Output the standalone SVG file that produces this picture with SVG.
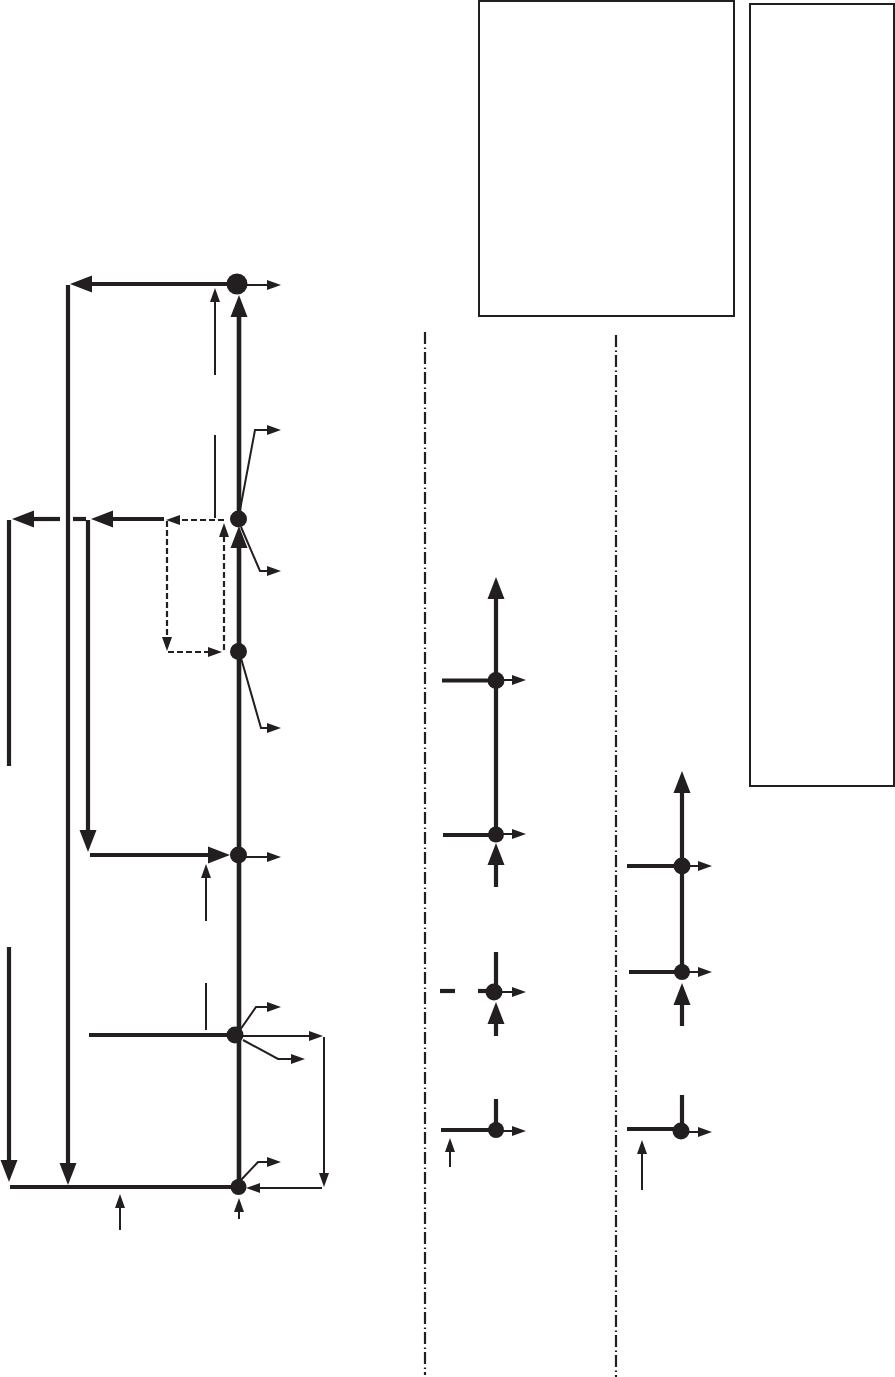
<svg xmlns="http://www.w3.org/2000/svg" width="895" height="1377" viewBox="0 0 895 1377">
<style>
.k{fill:none;stroke:#231f20;stroke-linejoin:miter}
.t4{stroke-width:4.6}
.t3{stroke-width:4.2}
.t2{stroke-width:2}
.d{stroke-dasharray:6 3;stroke-width:2.200}
.dd{stroke-width:2.200;stroke-dasharray:12 3.500 1.500 3}
.bh{marker-end:url(#big)}
.sh{marker-end:url(#small)}
.n{fill:#231f20}
.box{fill:#fff;stroke:#231f20;stroke-width:2}
</style>
<defs>
<marker id="big" markerUnits="userSpaceOnUse" markerWidth="23" markerHeight="18" refX="0" refY="8.500" orient="auto" overflow="visible"><path d="M0 0L22 8.500L0 17Z" fill="#231f20"/></marker>
<marker id="small" markerUnits="userSpaceOnUse" markerWidth="15" markerHeight="12" refX="0" refY="5" orient="auto" overflow="visible"><path d="M0 0L14 5L0 10Z" fill="#231f20"/></marker>
</defs>
<g id="legend-boxes">
<rect id="box-a" class="box" x="479" y="1" width="255" height="315"/>
<rect id="box-b" class="box" x="750" y="4" width="144" height="782"/>
</g>
<g id="connectors">
<path class="k dd" d="M425 332V1375"/>
<path class="k dd" d="M616 335V1377"/>

<path class="k t4" d="M239 1187V651"/>
<path class="k t4 bh" d="M239 651V548"/>
<path class="k t4 bh" d="M239 519V317"/>
<path class="k t3 bh" d="M237 284H92"/>
<path class="k t3 bh" d="M68 285V1163"/>
<path class="k t3" d="M9 520V766"/>
<path class="k t3 bh" d="M9 947V1160"/>
<path class="k t3 bh" d="M88 520V830"/>
<path class="k t3 bh" d="M164 519H113"/>
<path class="k t3" d="M86 519H73"/>
<path class="k t3 bh" d="M60 519H34"/>
<path class="k t3 bh" d="M90 855H208"/>
<path class="k t3" d="M89 1035H235"/>
<path class="k t3" d="M10 1187H238"/>

<path class="k t2 sh" d="M237 285H267"/>
<path class="k t2 sh" d="M215 375V302"/>
<path class="k t2" d="M215 435V518"/>
<path class="k t2 sh" d="M240 510L255 430H267"/>
<path class="k t2 sh" d="M241 527L260 571H267"/>
<path class="k t2 sh" d="M239 651L261 728H267"/>

<path class="k t2 d sh" d="M224 520H180"/>
<path class="k t2 d sh" d="M167 521V637"/>
<path class="k t2 d sh" d="M168 652H208"/>
<path class="k t2 d sh" d="M224 650V537"/>

<path class="k t2 sh" d="M238 857H267"/>
<path class="k t2 sh" d="M206 921V878"/>
<path class="k t2" d="M206 983V1030"/>
<path class="k t2 sh" d="M240 1030L256 1007H267"/>
<path class="k t2 sh" d="M240 1036H309"/>
<path class="k t2 sh" d="M243 1040L278 1059H291"/>
<path class="k t2 sh" d="M324 1037V1173"/>
<path class="k t2 sh" d="M322 1188H260"/>
<path class="k t2 sh" d="M241 1180L258 1162H267"/>
<path class="k t2 sh" d="M120 1230V1208"/>
<path class="k t2 sh" d="M239 1219V1212"/>

<path class="k t3 bh" d="M496 834V599"/>
<path class="k t3" d="M442 680.500H496"/>
<path class="k t3" d="M443 835H496"/>
<path class="k t2 sh" d="M496 680H512"/>
<path class="k t2 sh" d="M496 834H512"/>
<path class="k t3 bh" d="M496 887V865"/>
<path class="k t3" d="M496 952V992"/>
<path class="k t3" d="M440 991H455"/>
<path class="k t3" d="M478 991H496"/>
<path class="k t2 sh" d="M496 992H512"/>
<path class="k t3 bh" d="M496 1036V1024"/>
<path class="k t3" d="M496 1099V1130"/>
<path class="k t3" d="M441 1130H496"/>
<path class="k t2 sh" d="M496 1131H512"/>
<path class="k t2 sh" d="M450 1167V1152"/>

<path class="k t3 bh" d="M682 972V793"/>
<path class="k t3" d="M627 866H682"/>
<path class="k t3" d="M629 972H682"/>
<path class="k t2 sh" d="M682 866H698"/>
<path class="k t2 sh" d="M682 972H698"/>
<path class="k t3 bh" d="M682 1026V1005"/>
<path class="k t3" d="M682 1095V1131"/>
<path class="k t3" d="M627 1129H681"/>
<path class="k t2 sh" d="M681 1132H698"/>
<path class="k t2 sh" d="M642 1190V1154"/>
</g>
<g id="node-1"><circle class="n" cx="237" cy="284" r="10.500"/></g>
<g id="node-2"><circle class="n" cx="238.500" cy="519" r="8.500"/></g>
<g id="node-3"><circle class="n" cx="238.500" cy="651.500" r="8.500"/></g>
<g id="node-4"><circle class="n" cx="238.500" cy="855" r="8.500"/></g>
<g id="node-5"><circle class="n" cx="235" cy="1035" r="8.500"/></g>
<g id="node-6"><circle class="n" cx="238.500" cy="1187" r="8"/></g>
<g id="node-7"><circle class="n" cx="496" cy="680.500" r="8.500"/></g>
<g id="node-8"><circle class="n" cx="496" cy="834.500" r="8"/></g>
<g id="node-9"><circle class="n" cx="494" cy="992" r="8.500"/></g>
<g id="node-10"><circle class="n" cx="496" cy="1130" r="8"/></g>
<g id="node-11"><circle class="n" cx="682" cy="866" r="8.500"/></g>
<g id="node-12"><circle class="n" cx="682" cy="972" r="8"/></g>
<g id="node-13"><circle class="n" cx="681" cy="1131" r="8.500"/></g>
</svg>
